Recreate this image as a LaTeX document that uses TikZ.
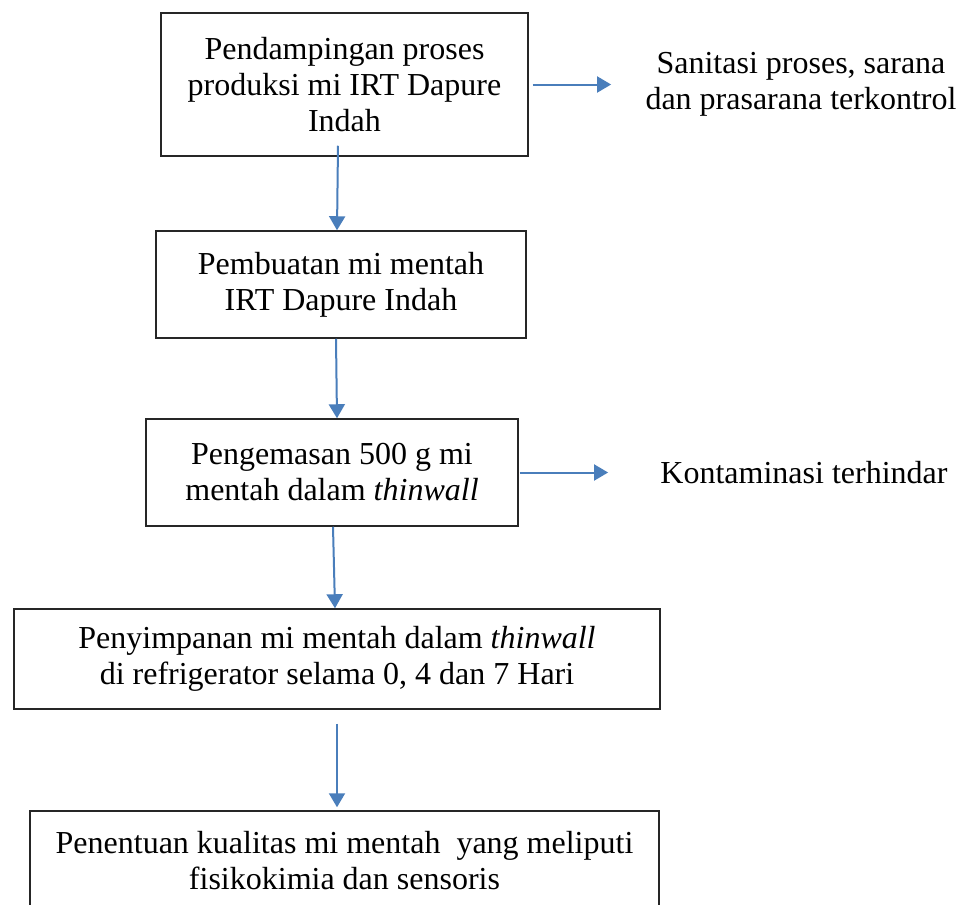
\documentclass[tikz,border=0pt]{standalone}
\usepackage{fontspec}
\setmainfont{Liberation Serif}
\usepackage{tikz}
\usetikzlibrary{arrows.meta}
\definecolor{flowblue}{RGB}{74,126,187}

\begin{document}
\begin{tikzpicture}[x=0.5pt,y=-0.5pt]
\tikzstyle{main}=[rectangle, draw=black!85, line width=0.75pt, align=center, inner sep=0pt, font=\fontsize{16}{18}\selectfont]
\tikzstyle{side}=[align=center, inner sep=0pt, font=\fontsize{16}{18}\selectfont]
\tikzstyle{connect}=[-{Triangle[length=7pt,width=8pt]}, draw=flowblue, fill=flowblue, line width=1pt]
  \useasboundingbox (0,0) rectangle (960,905);
  \node[main, minimum width=183.5pt, minimum height=71.5pt] (pendampingan) at (344.5,84.5) {Pendampingan proses\\produksi mi IRT Dapure\\Indah};
  \node[main, minimum width=185pt, minimum height=53.5pt] (pembuatan) at (341,284.5) {Pembuatan mi mentah\\IRT Dapure Indah};
  \node[main, minimum width=186pt, minimum height=53.5pt] (pengemasan) at (332,472.5) {Pengemasan 500 g mi\\mentah dalam \textit{thinwall}};
  \node[main, minimum width=323pt, minimum height=50pt] (penyimpanan) at (337,659) {Penyimpanan mi mentah dalam \textit{thinwall}\\di refrigerator selama 0, 4 dan 7 Hari};
  \node[main, minimum width=314.5pt, minimum height=50pt] (penentuan) at (344.5,861) {Penentuan kualitas mi mentah \ yang meliputi\\fisikokimia dan sensoris};
  \node[side] (sanitasi) at (801,84) {Sanitasi proses, sarana\\dan prasarana terkontrol};
  \node[side] (kontaminasi) at (804,473) {Kontaminasi terhindar};

  \draw[connect] ([xshift=-3.25pt,yshift=5.5pt]pendampingan.south) -- ([xshift=-2pt]pembuatan.north);
  \draw[connect] ([xshift=-2.5pt]pembuatan.south) -- ([xshift=2.5pt]pengemasan.north);
  \draw[connect] ([xshift=0.5pt]pengemasan.south) -- ([xshift=-1pt]penyimpanan.north);
  \draw[connect] ([yshift=-7pt]penyimpanan.south) -- ([xshift=-3.75pt,yshift=1.5pt]penentuan.north);
  \draw[connect] ([xshift=2pt]pendampingan.east) -- ([xshift=-17pt]sanitasi.west |- pendampingan.east);
  \draw[connect] ([xshift=0.5pt]pengemasan.east) -- ([xshift=-26pt]kontaminasi.west |- pengemasan.east);
\end{tikzpicture}
\end{document}
